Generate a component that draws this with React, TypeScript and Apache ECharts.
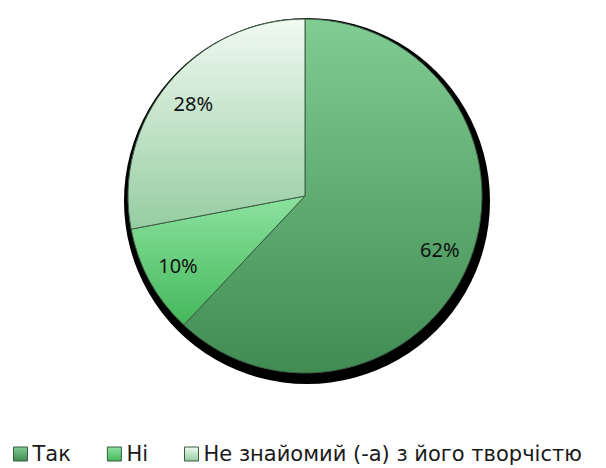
import React, { useEffect, useRef } from "react";
import * as echarts from "echarts";

const categories = ["Так", "Ні", "Не знайомий (-а) з його творчістю"];
const values = [62, 10, 28];
const labels = ["62%", "10%", "28%"];

const gradients: [string, string][] = [
  ["#80cc93", "#418c52"],
  ["#8ce29f", "#44b85b"],
  ["#f0f9f1", "#96cda1"],
];

const grad = (c: [string, string]) =>
  new echarts.graphic.LinearGradient(0, 0, 0, 1, [
    { offset: 0, color: c[0] },
    { offset: 1, color: c[1] },
  ]);

export default function App() {
  const ref = useRef<HTMLDivElement>(null);
  useEffect(() => {
    if (!ref.current) return;
    const chart = echarts.init(ref.current, null, { renderer: "svg" });
    const center = [305, 196];
    chart.setOption({
      animation: false,
      backgroundColor: "#ffffff",
      legend: {
        data: categories,
        left: 8,
        top: 438,
        icon: "rect",
        itemWidth: 14,
        itemHeight: 14,
        itemGap: 36,
        textStyle: {
          fontFamily: "DejaVu Sans",
          fontSize: 21,
          lineHeight: 22,
          color: "#1a1a1a",
        },
        itemStyle: { borderColor: "#3a5a42", borderWidth: 1 },
      },
      series: [
        {
          type: "pie",
          silent: true,
          center: [307, 201],
          radius: 183,
          label: { show: false },
          labelLine: { show: false },
          itemStyle: { color: "#000000" },
          data: [{ name: "shadow", value: 1 }],
          z: 1,
        },
        {
          type: "pie",
          center,
          radius: 177,
          startAngle: 90,
          clockwise: true,
          label: { show: false },
          labelLine: { show: false },
          itemStyle: { borderColor: "#3d5e46", borderWidth: 1 },
          data: categories.map((n, i) => ({
            name: n,
            value: values[i],
            itemStyle: { color: grad(gradients[i]) },
          })),
          z: 2,
        },
        {
          type: "pie",
          silent: true,
          center,
          radius: [107, 177],
          startAngle: 90,
          clockwise: true,
          itemStyle: { color: "rgba(0,0,0,0)" },
          label: {
            show: true,
            position: "inside",
            fontFamily: "Noto Sans",
            fontSize: 20,
            color: "#111111",
            formatter: (p: any) => labels[p.dataIndex],
          },
          labelLine: { show: false },
          data: categories.map((n, i) => ({ name: n, value: values[i] })),
          z: 3,
        },
      ],
    });
    return () => chart.dispose();
  }, []);
  return (
    <div
      ref={ref}
      style={{ position: "fixed", left: 0, top: 0, width: 606, height: 468 }}
    />
  );
}
